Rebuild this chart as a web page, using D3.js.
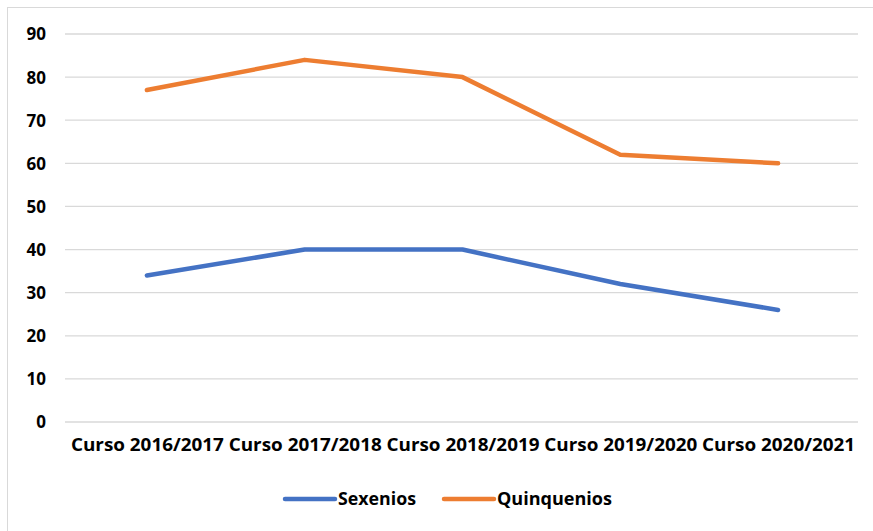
<!DOCTYPE html>
<html>
<head>
<meta charset="utf-8">
<script src="https://cdn.jsdelivr.net/npm/d3@7"></script>
<style>
  body { margin: 0; background: #fff; }
  svg { display: block; }
  text { font-family: 'Open Sans', 'Noto Sans', sans-serif; font-weight: bold; fill: #000; }
</style>
</head>
<body>
<script>
const categories = ['Curso 2016/2017', 'Curso 2017/2018', 'Curso 2018/2019', 'Curso 2019/2020', 'Curso 2020/2021']
const sexenios = [34, 40, 40, 32, 26]
const quinquenios = [77, 84, 80, 62, 60]
const yTicks = [0, 10, 20, 30, 40, 50, 60, 70, 80, 90]
const seriesNames = ['Sexenios', 'Quinquenios']
const seriesColors = ['#4472C4', '#ED7D31']

const config = {
  width: 873,
  height: 531,
  left: 68,
  right: 857,
  top: 34,
  bottom: 422
}

const root = d3.select('body').append('svg')
  .attr('width', config.width)
  .attr('height', config.height)

// outer chart frame
root.append('rect')
  .attr('x', 7.5).attr('y', 7.5)
  .attr('width', 870).attr('height', 530)
  .attr('fill', 'none')
  .attr('stroke', '#d9d9d9')

const x = d3.scalePoint()
  .domain(categories)
  .range([config.left, config.right])
  .padding(0.5)

const y = d3.scaleLinear()
  .domain([0, 90])
  .range([config.bottom, config.top])

// gridlines
root.append('g')
  .selectAll('line')
  .data(yTicks).enter().append('line')
  .attr('x1', 65).attr('x2', 858)
  .attr('y1', d => y(d)).attr('y2', d => y(d))
  .attr('stroke', '#d9d9d9')
  .attr('stroke-width', 1.3)

// y labels
const yAxis = d3.axisLeft(y).tickValues(yTicks).tickSize(0).tickPadding(0)
const yg = root.append('g')
  .attr('transform', 'translate(46,0)')
  .call(yAxis)
yg.select('.domain').remove()
yg.selectAll('text')
  .style('font-size', '17px')
  .attr('dy', '0.35em')

// x labels
const xAxis = d3.axisBottom(x).tickSize(0).tickPadding(0)
const xg = root.append('g')
  .attr('transform', 'translate(0,' + (config.bottom + 17) + ')')
  .call(xAxis)
xg.select('.domain').remove()
xg.selectAll('text')
  .style('font-size', '17px')
  .attr('dy', '0.7em')
  .attr('textLength', 153)
  .attr('lengthAdjust', 'spacingAndGlyphs')

const line = d3.line()
  .x((d, i) => x(categories[i]))
  .y(d => y(d))

;[sexenios, quinquenios].forEach((s, k) => {
  root.append('path')
    .datum(s)
    .attr('d', line)
    .attr('fill', 'none')
    .attr('stroke', seriesColors[k])
    .attr('stroke-width', 4.5)
    .attr('stroke-linecap', 'round')
    .attr('stroke-linejoin', 'round')
})

// legend
const legendX = [285, 444]
const legendW = [78, 115]
seriesNames.forEach((name, k) => {
  const g = root.append('g').attr('transform', 'translate(' + legendX[k] + ',499)')
  g.append('line')
    .attr('x1', 0).attr('x2', 50)
    .attr('stroke', seriesColors[k])
    .attr('stroke-width', 4.5)
    .attr('stroke-linecap', 'round')
  g.append('text')
    .attr('x', 53)
    .attr('dy', '0.35em')
    .style('font-size', '17px')
    .attr('textLength', legendW[k])
    .attr('lengthAdjust', 'spacingAndGlyphs')
    .text(name)
})
</script>
</body>
</html>
